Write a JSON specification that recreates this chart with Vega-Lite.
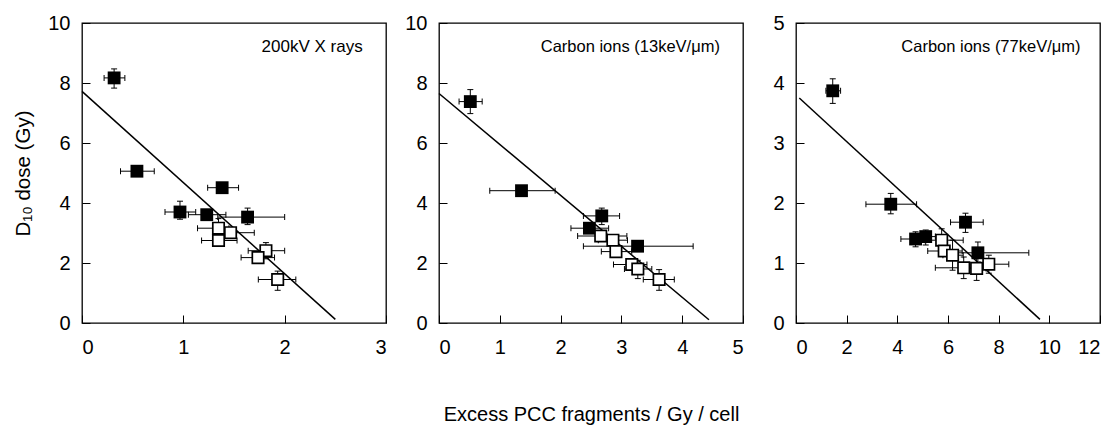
{
  "$schema": "https://vega.github.io/schema/vega-lite/v6.json",
  "background": "white",
  "padding": {"left": 13, "top": 12, "right": 5, "bottom": 5},
  "bounds": "flush",
  "spacing": 53,
  "config": {
    "view": {"stroke": "black", "strokeWidth": 1.3},
    "font": "Liberation Sans",
    "axis": {
      "grid": false, "domain": false, "format": "d",
      "tickSize": -8, "tickColor": "black", "tickWidth": 1,
      "labelFont": "Liberation Sans", "labelFontSize": 20, "labelColor": "black",
      "labelPadding": 22,
      "titleFont": "Liberation Sans", "titleFontSize": 20, "titleFontWeight": "normal", "titleColor": "black"
    },
    "axisY": {"titlePadding": 14, "labelPadding": 20, "titleFontSize": 20.5}
  },
  "datasets": {
    "pts": [
      {"panel": 1, "kind": "filled", "x": 0.317, "y": 8.17, "xlo": 0.218, "xhi": 0.423, "ylo": 7.83, "yhi": 8.47},
      {"panel": 1, "kind": "filled", "x": 0.542, "y": 5.06, "xlo": 0.38, "xhi": 0.713, "ylo": null, "yhi": null},
      {"panel": 1, "kind": "filled", "x": 1.383, "y": 4.51, "xlo": 1.24, "xhi": 1.545, "ylo": null, "yhi": null},
      {"panel": 1, "kind": "filled", "x": 0.967, "y": 3.70, "xlo": 0.819, "xhi": 1.122, "ylo": 3.46, "yhi": 4.06},
      {"panel": 1, "kind": "filled", "x": 1.231, "y": 3.61, "xlo": 1.05, "xhi": 1.42, "ylo": null, "yhi": null},
      {"panel": 1, "kind": "filled", "x": 1.634, "y": 3.53, "xlo": 1.34, "xhi": 2.0, "ylo": 3.28, "yhi": 3.83},
      {"panel": 1, "kind": "open", "x": 1.347, "y": 3.16, "xlo": 1.14, "xhi": 1.45, "ylo": 2.84, "yhi": 3.48},
      {"panel": 1, "kind": "open", "x": 1.466, "y": 3.01, "xlo": 1.31, "xhi": 1.70, "ylo": null, "yhi": null},
      {"panel": 1, "kind": "open", "x": 1.347, "y": 2.75, "xlo": 1.18, "xhi": 1.53, "ylo": null, "yhi": null},
      {"panel": 1, "kind": "open", "x": 1.815, "y": 2.41, "xlo": 1.64, "xhi": 2.0, "ylo": 2.14, "yhi": 2.68},
      {"panel": 1, "kind": "open", "x": 1.737, "y": 2.18, "xlo": 1.57, "xhi": 1.90, "ylo": null, "yhi": null},
      {"panel": 1, "kind": "open", "x": 1.931, "y": 1.45, "xlo": 1.74, "xhi": 2.11, "ylo": 1.09, "yhi": 1.73},
      {"panel": 2, "kind": "filled", "x": 0.515, "y": 7.38, "xlo": 0.33, "xhi": 0.71, "ylo": 6.98, "yhi": 7.78},
      {"panel": 2, "kind": "filled", "x": 1.357, "y": 4.41, "xlo": 0.835, "xhi": 1.91, "ylo": null, "yhi": null},
      {"panel": 2, "kind": "filled", "x": 2.677, "y": 3.57, "xlo": 2.375, "xhi": 2.97, "ylo": 3.28, "yhi": 3.83},
      {"panel": 2, "kind": "filled", "x": 2.474, "y": 3.16, "xlo": 2.17, "xhi": 2.79, "ylo": null, "yhi": null},
      {"panel": 2, "kind": "filled", "x": 3.266, "y": 2.56, "xlo": 2.375, "xhi": 4.18, "ylo": null, "yhi": null},
      {"panel": 2, "kind": "open", "x": 2.66, "y": 2.90, "xlo": 2.28, "xhi": 3.09, "ylo": null, "yhi": null},
      {"panel": 2, "kind": "open", "x": 2.86, "y": 2.76, "xlo": 2.62, "xhi": 3.10, "ylo": null, "yhi": null},
      {"panel": 2, "kind": "open", "x": 2.91, "y": 2.38, "xlo": 2.67, "xhi": 3.17, "ylo": null, "yhi": null},
      {"panel": 2, "kind": "open", "x": 3.17, "y": 1.95, "xlo": 2.87, "xhi": 3.42, "ylo": null, "yhi": null},
      {"panel": 2, "kind": "open", "x": 3.27, "y": 1.80, "xlo": 3.05, "xhi": 3.50, "ylo": 1.48, "yhi": 2.09},
      {"panel": 2, "kind": "open", "x": 3.62, "y": 1.45, "xlo": 3.36, "xhi": 3.87, "ylo": 1.09, "yhi": 1.78},
      {"panel": 3, "kind": "filled", "x": 1.45, "y": 3.87, "xlo": 1.18, "xhi": 1.76, "ylo": 3.66, "yhi": 4.07},
      {"panel": 3, "kind": "filled", "x": 3.74, "y": 1.98, "xlo": 2.76, "xhi": 4.76, "ylo": 1.82, "yhi": 2.16},
      {"panel": 3, "kind": "filled", "x": 6.69, "y": 1.68, "xlo": 6.10, "xhi": 7.39, "ylo": 1.51, "yhi": 1.83},
      {"panel": 3, "kind": "filled", "x": 4.72, "y": 1.40, "xlo": 4.14, "xhi": 5.0, "ylo": 1.27, "yhi": 1.52},
      {"panel": 3, "kind": "filled", "x": 5.12, "y": 1.44, "xlo": 4.9, "xhi": 5.5, "ylo": 1.30, "yhi": 1.55},
      {"panel": 3, "kind": "filled", "x": 7.18, "y": 1.17, "xlo": 6.21, "xhi": 9.19, "ylo": 1.01, "yhi": 1.35},
      {"panel": 3, "kind": "open", "x": 5.75, "y": 1.38, "xlo": 5.09, "xhi": 6.60, "ylo": 1.20, "yhi": 1.57},
      {"panel": 3, "kind": "open", "x": 5.85, "y": 1.20, "xlo": 5.2, "xhi": 6.56, "ylo": null, "yhi": null},
      {"panel": 3, "kind": "open", "x": 6.18, "y": 1.13, "xlo": 5.8, "xhi": 6.6, "ylo": 0.88, "yhi": 1.38},
      {"panel": 3, "kind": "open", "x": 6.62, "y": 0.92, "xlo": 5.50, "xhi": 7.13, "ylo": 0.74, "yhi": 1.10},
      {"panel": 3, "kind": "open", "x": 7.13, "y": 0.91, "xlo": 6.8, "xhi": 7.5, "ylo": 0.71, "yhi": 1.09},
      {"panel": 3, "kind": "open", "x": 7.61, "y": 0.98, "xlo": 7.26, "xhi": 8.40, "ylo": 0.83, "yhi": 1.13}
    ],
    "fit": [
      {"panel": 1, "x": 0, "y": 7.72}, {"panel": 1, "x": 2.50, "y": 0.12},
      {"panel": 2, "x": 0, "y": 7.65}, {"panel": 2, "x": 4.44, "y": 0.11},
      {"panel": 3, "x": 0.13, "y": 3.75}, {"panel": 3, "x": 9.63, "y": 0.06}
    ],
    "lab": [
      {"panel": 1, "x": 2.77, "y": 9.02, "text": "200kV X rays"},
      {"panel": 2, "x": 4.62, "y": 9.02, "text": "Carbon ions (13keV/μm)"},
      {"panel": 3, "x": 11.23, "y": 4.51, "text": "Carbon ions (77keV/μm)"}
    ]
  },
  "hconcat": [
    {
      "width": 304, "height": 300,
      "layer": [
        {"data": {"name": "fit"}, "transform": [{"filter": "datum.panel == 1"}],
         "mark": {"type": "line", "color": "black", "strokeWidth": 1.5},
         "encoding": {
           "x": {"field": "x", "type": "quantitative", "title": null, "scale": {"domain": [0, 3], "nice": false}, "axis": {"values": [0, 1, 2, 3]}},
           "y": {"field": "y", "type": "quantitative", "scale": {"domain": [0, 10], "nice": false}, "axis": {"values": [0, 2, 4, 6, 8, 10], "title": "D₁₀ dose (Gy)"}}}},
        {"data": {"name": "pts"}, "transform": [{"filter": "datum.panel == 1"}],
         "mark": {"type": "rule", "color": "black", "strokeWidth": 1},
         "encoding": {"x": {"field": "xlo", "type": "quantitative", "title": null}, "x2": {"field": "xhi"}, "y": {"field": "y", "type": "quantitative"}}},
        {"data": {"name": "pts"}, "transform": [{"filter": "datum.panel == 1"}],
         "mark": {"type": "tick", "orient": "vertical", "size": 6, "thickness": 1, "color": "black", "opacity": 1},
         "encoding": {"x": {"field": "xlo", "type": "quantitative", "title": null}, "y": {"field": "y", "type": "quantitative"}}},
        {"data": {"name": "pts"}, "transform": [{"filter": "datum.panel == 1"}],
         "mark": {"type": "tick", "orient": "vertical", "size": 6, "thickness": 1, "color": "black", "opacity": 1},
         "encoding": {"x": {"field": "xhi", "type": "quantitative", "title": null}, "y": {"field": "y", "type": "quantitative"}}},
        {"data": {"name": "pts"}, "transform": [{"filter": "datum.panel == 1 && datum.ylo != null"}],
         "mark": {"type": "rule", "color": "black", "strokeWidth": 1},
         "encoding": {"x": {"field": "x", "type": "quantitative", "title": null}, "y": {"field": "ylo", "type": "quantitative"}, "y2": {"field": "yhi"}}},
        {"data": {"name": "pts"}, "transform": [{"filter": "datum.panel == 1 && datum.ylo != null"}],
         "mark": {"type": "tick", "orient": "horizontal", "size": 6, "thickness": 1, "color": "black", "opacity": 1},
         "encoding": {"x": {"field": "x", "type": "quantitative", "title": null}, "y": {"field": "ylo", "type": "quantitative"}}},
        {"data": {"name": "pts"}, "transform": [{"filter": "datum.panel == 1 && datum.ylo != null"}],
         "mark": {"type": "tick", "orient": "horizontal", "size": 6, "thickness": 1, "color": "black", "opacity": 1},
         "encoding": {"x": {"field": "x", "type": "quantitative", "title": null}, "y": {"field": "yhi", "type": "quantitative"}}},
        {"data": {"name": "pts"}, "transform": [{"filter": "datum.panel == 1 && datum.kind == 'filled'"}],
         "mark": {"type": "point", "shape": "square", "filled": true, "color": "black", "size": 165, "opacity": 1},
         "encoding": {"x": {"field": "x", "type": "quantitative", "title": null}, "y": {"field": "y", "type": "quantitative"}}},
        {"data": {"name": "pts"}, "transform": [{"filter": "datum.panel == 1 && datum.kind == 'open'"}],
         "mark": {"type": "point", "shape": "square", "filled": false, "fill": "white", "fillOpacity": 1, "stroke": "black", "strokeWidth": 1.7, "size": 130, "opacity": 1},
         "encoding": {"x": {"field": "x", "type": "quantitative", "title": null}, "y": {"field": "y", "type": "quantitative"}}},
        {"data": {"name": "lab"}, "transform": [{"filter": "datum.panel == 1"}],
         "mark": {"type": "text", "align": "right", "baseline": "alphabetic", "fontSize": 17, "font": "Liberation Sans", "color": "black"},
         "encoding": {"x": {"field": "x", "type": "quantitative", "title": null}, "y": {"field": "y", "type": "quantitative"}, "text": {"field": "text"}}}
      ]
    },
    {
      "width": 304, "height": 300,
      "layer": [
        {"data": {"name": "fit"}, "transform": [{"filter": "datum.panel == 2"}],
         "mark": {"type": "line", "color": "black", "strokeWidth": 1.5},
         "encoding": {
           "x": {"field": "x", "type": "quantitative", "scale": {"domain": [0, 5], "nice": false}, "axis": {"values": [0, 1, 2, 3, 4, 5], "title": "Excess PCC fragments / Gy / cell", "titlePadding": 47}},
           "y": {"field": "y", "type": "quantitative", "title": null, "scale": {"domain": [0, 10], "nice": false}, "axis": {"values": [0, 2, 4, 6, 8, 10]}}}},
        {"data": {"name": "pts"}, "transform": [{"filter": "datum.panel == 2"}],
         "mark": {"type": "rule", "color": "black", "strokeWidth": 1},
         "encoding": {"x": {"field": "xlo", "type": "quantitative"}, "x2": {"field": "xhi"}, "y": {"field": "y", "type": "quantitative", "title": null}}},
        {"data": {"name": "pts"}, "transform": [{"filter": "datum.panel == 2"}],
         "mark": {"type": "tick", "orient": "vertical", "size": 6, "thickness": 1, "color": "black", "opacity": 1},
         "encoding": {"x": {"field": "xlo", "type": "quantitative"}, "y": {"field": "y", "type": "quantitative", "title": null}}},
        {"data": {"name": "pts"}, "transform": [{"filter": "datum.panel == 2"}],
         "mark": {"type": "tick", "orient": "vertical", "size": 6, "thickness": 1, "color": "black", "opacity": 1},
         "encoding": {"x": {"field": "xhi", "type": "quantitative"}, "y": {"field": "y", "type": "quantitative", "title": null}}},
        {"data": {"name": "pts"}, "transform": [{"filter": "datum.panel == 2 && datum.ylo != null"}],
         "mark": {"type": "rule", "color": "black", "strokeWidth": 1},
         "encoding": {"x": {"field": "x", "type": "quantitative"}, "y": {"field": "ylo", "type": "quantitative", "title": null}, "y2": {"field": "yhi"}}},
        {"data": {"name": "pts"}, "transform": [{"filter": "datum.panel == 2 && datum.ylo != null"}],
         "mark": {"type": "tick", "orient": "horizontal", "size": 6, "thickness": 1, "color": "black", "opacity": 1},
         "encoding": {"x": {"field": "x", "type": "quantitative"}, "y": {"field": "ylo", "type": "quantitative", "title": null}}},
        {"data": {"name": "pts"}, "transform": [{"filter": "datum.panel == 2 && datum.ylo != null"}],
         "mark": {"type": "tick", "orient": "horizontal", "size": 6, "thickness": 1, "color": "black", "opacity": 1},
         "encoding": {"x": {"field": "x", "type": "quantitative"}, "y": {"field": "yhi", "type": "quantitative", "title": null}}},
        {"data": {"name": "pts"}, "transform": [{"filter": "datum.panel == 2 && datum.kind == 'filled'"}],
         "mark": {"type": "point", "shape": "square", "filled": true, "color": "black", "size": 165, "opacity": 1},
         "encoding": {"x": {"field": "x", "type": "quantitative"}, "y": {"field": "y", "type": "quantitative", "title": null}}},
        {"data": {"name": "pts"}, "transform": [{"filter": "datum.panel == 2 && datum.kind == 'open'"}],
         "mark": {"type": "point", "shape": "square", "filled": false, "fill": "white", "fillOpacity": 1, "stroke": "black", "strokeWidth": 1.7, "size": 130, "opacity": 1},
         "encoding": {"x": {"field": "x", "type": "quantitative"}, "y": {"field": "y", "type": "quantitative", "title": null}}},
        {"data": {"name": "lab"}, "transform": [{"filter": "datum.panel == 2"}],
         "mark": {"type": "text", "align": "right", "baseline": "alphabetic", "fontSize": 16.5, "font": "Liberation Sans", "color": "black"},
         "encoding": {"x": {"field": "x", "type": "quantitative"}, "y": {"field": "y", "type": "quantitative", "title": null}, "text": {"field": "text"}}}
      ]
    },
    {
      "width": 304, "height": 300,
      "layer": [
        {"data": {"name": "fit"}, "transform": [{"filter": "datum.panel == 3"}],
         "mark": {"type": "line", "color": "black", "strokeWidth": 1.5},
         "encoding": {
           "x": {"field": "x", "type": "quantitative", "title": null, "scale": {"domain": [0, 12], "nice": false}, "axis": {"values": [0, 2, 4, 6, 8, 10, 12]}},
           "y": {"field": "y", "type": "quantitative", "title": null, "scale": {"domain": [0, 5], "nice": false}, "axis": {"values": [0, 1, 2, 3, 4, 5]}}}},
        {"data": {"name": "pts"}, "transform": [{"filter": "datum.panel == 3"}],
         "mark": {"type": "rule", "color": "black", "strokeWidth": 1},
         "encoding": {"x": {"field": "xlo", "type": "quantitative", "title": null}, "x2": {"field": "xhi"}, "y": {"field": "y", "type": "quantitative", "title": null}}},
        {"data": {"name": "pts"}, "transform": [{"filter": "datum.panel == 3"}],
         "mark": {"type": "tick", "orient": "vertical", "size": 6, "thickness": 1, "color": "black", "opacity": 1},
         "encoding": {"x": {"field": "xlo", "type": "quantitative", "title": null}, "y": {"field": "y", "type": "quantitative", "title": null}}},
        {"data": {"name": "pts"}, "transform": [{"filter": "datum.panel == 3"}],
         "mark": {"type": "tick", "orient": "vertical", "size": 6, "thickness": 1, "color": "black", "opacity": 1},
         "encoding": {"x": {"field": "xhi", "type": "quantitative", "title": null}, "y": {"field": "y", "type": "quantitative", "title": null}}},
        {"data": {"name": "pts"}, "transform": [{"filter": "datum.panel == 3 && datum.ylo != null"}],
         "mark": {"type": "rule", "color": "black", "strokeWidth": 1},
         "encoding": {"x": {"field": "x", "type": "quantitative", "title": null}, "y": {"field": "ylo", "type": "quantitative", "title": null}, "y2": {"field": "yhi"}}},
        {"data": {"name": "pts"}, "transform": [{"filter": "datum.panel == 3 && datum.ylo != null"}],
         "mark": {"type": "tick", "orient": "horizontal", "size": 6, "thickness": 1, "color": "black", "opacity": 1},
         "encoding": {"x": {"field": "x", "type": "quantitative", "title": null}, "y": {"field": "ylo", "type": "quantitative", "title": null}}},
        {"data": {"name": "pts"}, "transform": [{"filter": "datum.panel == 3 && datum.ylo != null"}],
         "mark": {"type": "tick", "orient": "horizontal", "size": 6, "thickness": 1, "color": "black", "opacity": 1},
         "encoding": {"x": {"field": "x", "type": "quantitative", "title": null}, "y": {"field": "yhi", "type": "quantitative", "title": null}}},
        {"data": {"name": "pts"}, "transform": [{"filter": "datum.panel == 3 && datum.kind == 'filled'"}],
         "mark": {"type": "point", "shape": "square", "filled": true, "color": "black", "size": 165, "opacity": 1},
         "encoding": {"x": {"field": "x", "type": "quantitative", "title": null}, "y": {"field": "y", "type": "quantitative", "title": null}}},
        {"data": {"name": "pts"}, "transform": [{"filter": "datum.panel == 3 && datum.kind == 'open'"}],
         "mark": {"type": "point", "shape": "square", "filled": false, "fill": "white", "fillOpacity": 1, "stroke": "black", "strokeWidth": 1.7, "size": 130, "opacity": 1},
         "encoding": {"x": {"field": "x", "type": "quantitative", "title": null}, "y": {"field": "y", "type": "quantitative", "title": null}}},
        {"data": {"name": "lab"}, "transform": [{"filter": "datum.panel == 3"}],
         "mark": {"type": "text", "align": "right", "baseline": "alphabetic", "fontSize": 16.5, "font": "Liberation Sans", "color": "black"},
         "encoding": {"x": {"field": "x", "type": "quantitative", "title": null}, "y": {"field": "y", "type": "quantitative", "title": null}, "text": {"field": "text"}}}
      ]
    }
  ]
}
